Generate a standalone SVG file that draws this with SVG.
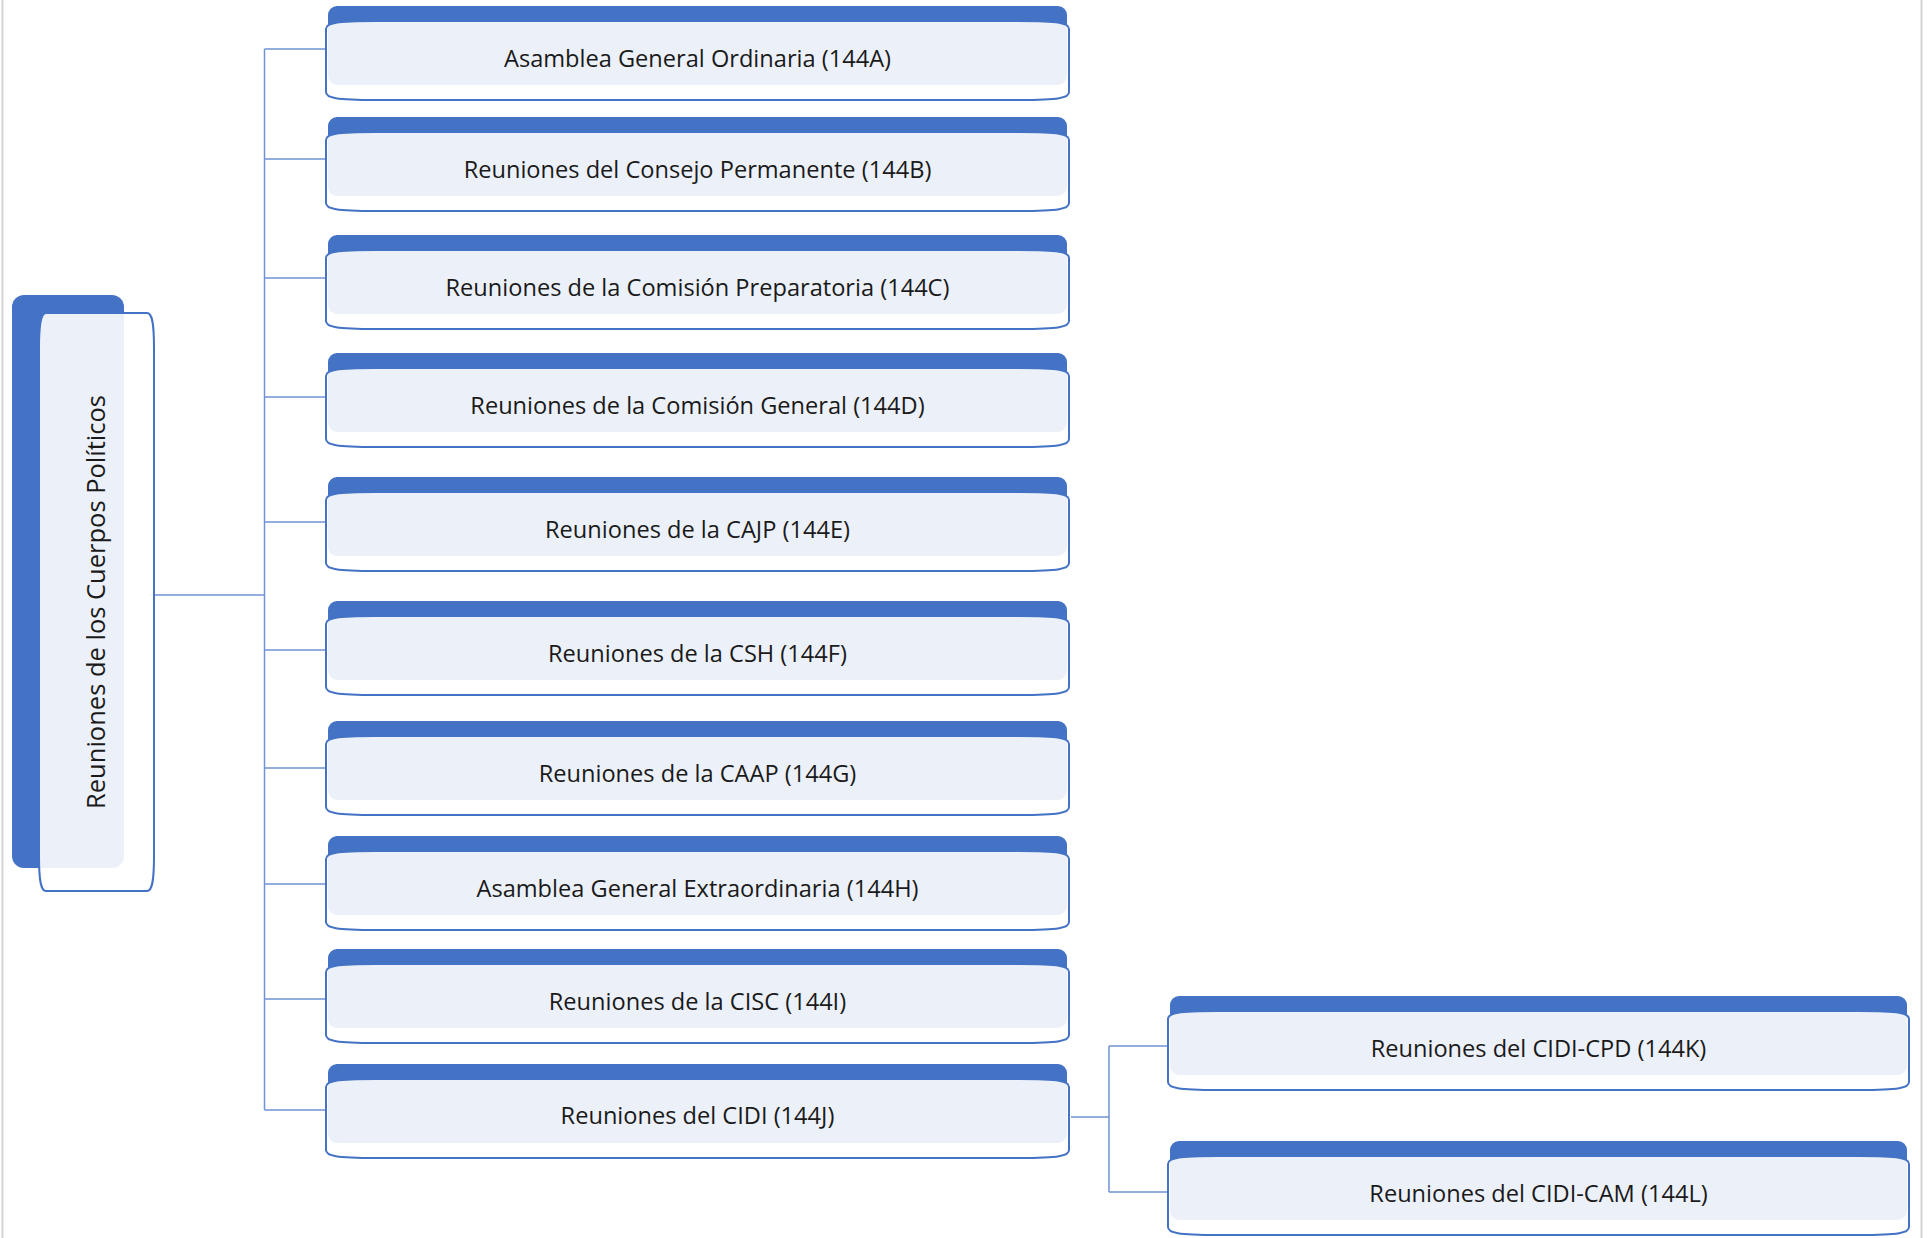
<svg xmlns="http://www.w3.org/2000/svg" xmlns:xlink="http://www.w3.org/1999/xlink" width="1927" height="1238" viewBox="0 0 1927 1238">
<defs>
<style>
.tab{fill:#4472c4;}
.body{fill:#ffffff;fill-opacity:0.9;stroke:#4472c4;stroke-width:2;}
.lbl{font-family:"Open Sans","Noto Sans","Liberation Sans",sans-serif;font-size:23.6px;fill:#1a1a1a;text-anchor:middle;}
.rootlbl{font-size:25.5px;}
.conn{fill:none;stroke:#7092d4;stroke-width:1.5;}
.frame{stroke:#d4d4d4;stroke-width:2;}
</style>
<path id="hbody" d="M0,23 C0,17 10,15 50,15 L693,15 C733,15 743,17 743,23 L743,86 C743,92 733,94 693,94 L50,94 C10,94 0,92 0,86 Z"/>
</defs>
<rect x="0" y="0" width="1927" height="1238" fill="#ffffff"/>
<line class="frame" x1="2.5" y1="0" x2="2.5" y2="1238"/>
<line class="frame" x1="1921.5" y1="0" x2="1921.5" y2="1238"/>

<g id="connectors">
<path class="conn" d="M150,595 H264.5"/>
<path class="conn" d="M264.5,49 V1110"/>
<path class="conn" d="M264.5,49 H326"/>
<path class="conn" d="M264.5,159 H326"/>
<path class="conn" d="M264.5,278 H326"/>
<path class="conn" d="M264.5,397 H326"/>
<path class="conn" d="M264.5,522 H326"/>
<path class="conn" d="M264.5,650 H326"/>
<path class="conn" d="M264.5,768 H326"/>
<path class="conn" d="M264.5,884 H326"/>
<path class="conn" d="M264.5,999 H326"/>
<path class="conn" d="M264.5,1110 H326"/>
<path class="conn" d="M1071,1117 H1109"/>
<path class="conn" d="M1109,1046 V1192"/>
<path class="conn" d="M1109,1046 H1168"/>
<path class="conn" d="M1109,1192 H1168"/>
</g>

<g id="root">
<rect class="tab" x="12" y="295" width="112" height="573" rx="12"/>
<path class="body" d="M46,313 L147,313 C152,313 154,322 154,348 L154,856 C154,882 152,891 147,891 L46,891 C41,891 39,882 39,856 L39,348 C39,322 41,313 46,313 Z"/>
<text class="lbl rootlbl" transform="translate(105,602) rotate(-90)" x="0" y="0">Reuniones de los Cuerpos Políticos</text>
</g>

<g id="n144A" transform="translate(326,6)">
<rect class="tab" x="2" y="0" width="739" height="79" rx="9"/>
<use href="#hbody" class="body"/>
<text class="lbl" x="371.5" y="61">Asamblea General Ordinaria (144A)</text>
</g>
<g id="n144B" transform="translate(326,117)">
<rect class="tab" x="2" y="0" width="739" height="79" rx="9"/>
<use href="#hbody" class="body"/>
<text class="lbl" x="371.5" y="61">Reuniones del Consejo Permanente (144B)</text>
</g>
<g id="n144C" transform="translate(326,235)">
<rect class="tab" x="2" y="0" width="739" height="79" rx="9"/>
<use href="#hbody" class="body"/>
<text class="lbl" x="371.5" y="61">Reuniones de la Comisión Preparatoria (144C)</text>
</g>
<g id="n144D" transform="translate(326,353)">
<rect class="tab" x="2" y="0" width="739" height="79" rx="9"/>
<use href="#hbody" class="body"/>
<text class="lbl" x="371.5" y="61">Reuniones de la Comisión General (144D)</text>
</g>
<g id="n144E" transform="translate(326,477)">
<rect class="tab" x="2" y="0" width="739" height="79" rx="9"/>
<use href="#hbody" class="body"/>
<text class="lbl" x="371.5" y="61">Reuniones de la CAJP (144E)</text>
</g>
<g id="n144F" transform="translate(326,601)">
<rect class="tab" x="2" y="0" width="739" height="79" rx="9"/>
<use href="#hbody" class="body"/>
<text class="lbl" x="371.5" y="61">Reuniones de la CSH (144F)</text>
</g>
<g id="n144G" transform="translate(326,721)">
<rect class="tab" x="2" y="0" width="739" height="79" rx="9"/>
<use href="#hbody" class="body"/>
<text class="lbl" x="371.5" y="61">Reuniones de la CAAP (144G)</text>
</g>
<g id="n144H" transform="translate(326,836)">
<rect class="tab" x="2" y="0" width="739" height="79" rx="9"/>
<use href="#hbody" class="body"/>
<text class="lbl" x="371.5" y="61">Asamblea General Extraordinaria (144H)</text>
</g>
<g id="n144I" transform="translate(326,949)">
<rect class="tab" x="2" y="0" width="739" height="79" rx="9"/>
<use href="#hbody" class="body"/>
<text class="lbl" x="371.5" y="61">Reuniones de la CISC (144I)</text>
</g>
<g id="n144J" transform="translate(326,1064)">
<rect class="tab" x="2" y="0" width="739" height="79" rx="9"/>
<use href="#hbody" class="body"/>
<text class="lbl" x="371.5" y="60">Reuniones del CIDI (144J)</text>
</g>
<g id="n144K" transform="translate(1168,996)">
<rect class="tab" x="2" y="0" width="737" height="79" rx="9"/>
<use href="#hbody" class="body" transform="scale(0.9973,1)"/>
<text class="lbl" x="370.5" y="61">Reuniones del CIDI-CPD (144K)</text>
</g>
<g id="n144L" transform="translate(1168,1141)">
<rect class="tab" x="2" y="0" width="737" height="79" rx="9"/>
<use href="#hbody" class="body" transform="scale(0.9973,1)"/>
<text class="lbl" x="370.5" y="61">Reuniones del CIDI-CAM (144L)</text>
</g>
</svg>
